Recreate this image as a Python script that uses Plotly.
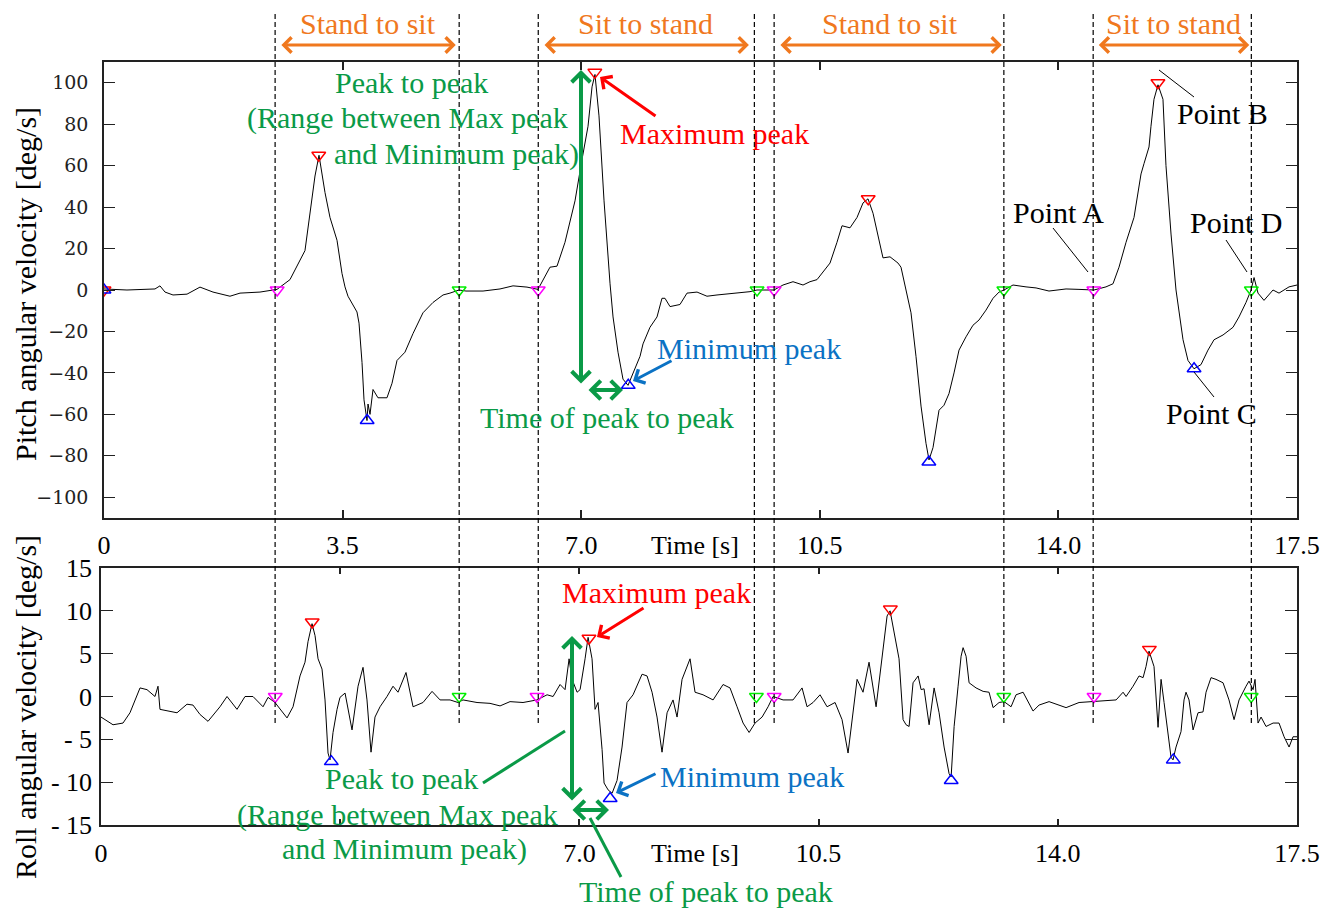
import plotly.graph_objects as go

# ---------------- data ----------------
pitch_t = [0.000, 0.337, 0.748, 0.821, 0.895, 1.012, 1.218, 1.408, 1.599, 1.848, 1.995, 2.288,
           2.538, 2.728, 2.948, 3.022, 3.095, 3.154, 3.242, 3.315, 3.418, 3.491, 3.535, 3.579,
           3.711, 3.741, 3.785, 3.814, 3.843, 3.858, 3.873, 3.902, 3.946, 4.019, 4.151, 4.225,
           4.298, 4.415, 4.533, 4.679, 4.826, 4.973, 5.075, 5.207, 5.310, 5.560, 5.809, 6.000,
           6.205, 6.366, 6.542, 6.645, 6.762, 6.909, 7.012, 7.100, 7.159, 7.202, 7.261, 7.335,
           7.423, 7.467, 7.540, 7.613, 7.687, 7.760, 7.863, 7.907, 8.009, 8.112, 8.185, 8.229,
           8.303, 8.449, 8.552, 8.699, 8.845, 8.992, 9.227, 9.476, 9.579, 9.828, 9.960, 10.107,
           10.254, 10.356, 10.459, 10.606, 10.650, 10.752, 10.826, 10.943, 11.046, 11.134, 11.207,
           11.281, 11.354, 11.427, 11.530, 11.647, 11.691, 11.764, 11.838, 11.911, 11.985, 12.058,
           12.102, 12.161, 12.205, 12.249, 12.322, 12.395, 12.469, 12.542, 12.645, 12.747, 12.835,
           12.938, 13.041, 13.129, 13.202, 13.334, 13.525, 13.672, 13.862, 14.112, 14.302, 14.522,
           14.698, 14.801, 14.889, 14.992, 15.109, 15.212, 15.256, 15.329, 15.358, 15.402, 15.461,
           15.534, 15.578, 15.652, 15.725, 15.769, 15.828, 15.901, 15.989, 16.092, 16.194, 16.283,
           16.415, 16.561, 16.649, 16.752, 16.826, 16.870, 16.928, 17.016, 17.148, 17.236, 17.383,
           17.500]
pitch_v = [0.5, 0.0, 0.5, 2.0, -1.0, -2.4, -2.0, 1.4, -1.0, -3.0, -1.5, -1.0,
           0.3, 5.0, 19.0, 37.0, 55.0, 65.0, 47.0, 35.0, 24.0, 8.0, 1.5, -3.0,
           -10.6, -16.0, -35.0, -53.0, -60.0, -63.0, -55.0, -60.0, -48.0, -52.0, -52.0, -45.0,
           -34.0, -30.0, -21.0, -11.0, -6.0, -2.4, -1.5, 0.0, -0.5, -0.5, 0.5, 2.0,
           1.4, 0.3, 11.0, 11.5, 23.0, 43.0, 63.0, 79.0, 98.0, 104.0, 84.0, 43.0,
           3.0, -13.0, -30.0, -43.0, -46.0, -40.0, -32.0, -26.0, -18.0, -13.0, -4.0, -4.0,
           -8.0, -7.0, -1.5, -1.0, -3.0, -2.4, -1.5, -0.8, 0.0, 0.0, 2.4, 4.0,
           2.4, 4.0, 5.0, 11.0, 13.0, 23.0, 31.0, 30.0, 35.0, 42.0, 44.0,
           37.0, 27.0, 15.5, 16.0, 13.0, 11.0, 0.0, -11.0, -32.0, -56.0, -74.0,
           -82.0, -76.0, -66.0, -58.0, -55.6, -50.0, -40.0, -29.0, -22.6, -17.0, -14.5,
           -9.7, -4.0, -1.0, 0.0, 2.4, 1.5, 1.0, -0.5, 0.5, 0.3, 0.0,
           1.5, 3.0, 11.0, 23.0, 35.0, 56.0, 61.0, 69.0, 79.0, 92.0, 99.0,
           92.0, 60.0, 27.0, 0.0, -11.0, -24.0, -34.0, -38.0, -36.0, -29.0, -24.0,
           -21.7, -18.0, -13.0, -6.0, 0.0, 6.0, -1.5, -5.0, 0.0, -1.5, 1.5,
           2.4]

roll_t = [0.000, 0.176, 0.322, 0.424, 0.571, 0.673, 0.790, 0.834, 0.863, 0.966, 1.112, 1.258,
          1.346, 1.449, 1.566, 1.741, 1.844, 1.990, 2.107, 2.224, 2.371, 2.444, 2.546, 2.722,
          2.810, 2.912, 2.985, 3.029, 3.088, 3.132, 3.176, 3.234, 3.278, 3.322, 3.351, 3.395,
          3.454, 3.497, 3.571, 3.673, 3.761, 3.834, 3.892, 3.951, 4.009, 4.083, 4.185, 4.273,
          4.346, 4.463, 4.566, 4.712, 4.844, 4.961, 5.107, 5.224, 5.297, 5.502, 5.692, 5.839,
          5.985, 6.175, 6.380, 6.527, 6.615, 6.717, 6.790, 6.849, 6.893, 6.966, 7.010, 7.083,
          7.127, 7.185, 7.229, 7.273, 7.332, 7.361, 7.420, 7.478, 7.551, 7.624, 7.697, 7.785,
          7.917, 7.990, 8.063, 8.136, 8.209, 8.283, 8.370, 8.429, 8.502, 8.619, 8.692, 8.809,
          8.956, 9.102, 9.204, 9.307, 9.395, 9.483, 9.570, 9.673, 9.761, 9.834, 9.980, 10.126,
          10.258, 10.331, 10.419, 10.521, 10.624, 10.741, 10.843, 10.931, 11.004, 11.063, 11.150,
          11.238, 11.341, 11.443, 11.502, 11.546, 11.604, 11.677, 11.736, 11.780, 11.824, 11.882,
          11.956, 12.000, 12.043, 12.117, 12.190, 12.263, 12.336, 12.409, 12.439, 12.483, 12.541,
          12.585, 12.614, 12.658, 12.702, 12.804, 12.907, 12.994, 13.053, 13.141, 13.214, 13.316,
          13.389, 13.492, 13.638, 13.726, 13.872, 14.121, 14.311, 14.516, 14.706, 14.853, 14.955,
          14.999, 15.101, 15.189, 15.248, 15.291, 15.335, 15.394, 15.408, 15.467, 15.511, 15.555,
          15.613, 15.657, 15.686, 15.730, 15.803, 15.847, 15.876, 15.920, 15.979, 16.052, 16.125,
          16.169, 16.242, 16.315, 16.418, 16.505, 16.579, 16.652, 16.754, 16.798, 16.857, 16.886,
          16.930, 16.974, 17.047, 17.150, 17.237, 17.311, 17.384, 17.442, 17.500]
roll_v = [-2.4, -3.3, -3.1, -1.9, 1.0, 0.8, 0.0, 1.2, -1.5, -1.7, -1.9, -0.9,
          -1.0, -2.1, -2.9, -1.2, 0.0, -1.5, 0.0, 0.0, -1.2, -0.1, -0.7, -2.5,
          -1.2, 2.4, 4.0, 6.4, 8.5, 7.1, 4.4, 3.2, -0.4, -6.6, -7.4, -4.2,
          -1.5, -0.1, 0.4, -3.9, 1.2, 3.4, -0.4, -6.5, -2.4, -1.2, 0.0, 1.2,
          0.5, 2.8, -1.2, -0.7, 0.6, -0.4, -0.4, -0.7, -0.4, -0.7, -0.8, -1.1,
          -0.6, -0.7, -0.4, 0.2, 0.0, 1.4, 0.8, 4.4, 2.0, 0.5, 0.8, 4.4,
          6.9, 4.4, -1.5, -0.7, -6.2, -10.1, -10.9, -11.3, -9.8, -5.9, -0.7, 0.2,
          2.6, 2.4, 0.5, -2.4, -6.5, -1.9, -0.4, -2.4, 2.0, 4.4, 0.5, 0.2,
          -0.4, 1.4, 1.0, -1.2, -3.1, -4.2, -3.1, -2.4, -1.2, 0.0, -0.4, -0.4,
          1.0, -1.2, -0.7, 0.2, -1.2, -0.7, -2.7, -6.6, -1.9, 2.0, 0.5,
          4.0, -1.2, 5.2, 9.4, 10.0, 7.5, 4.4, -2.7, -3.3, -3.5, 1.6,
          2.4, 0.8, 0.9, -3.3, 1.0, -1.9, -5.9, -9.0, -9.4, -3.5, 1.2,
          4.7, 5.7, 4.7, 1.6, 1.0, 0.6, 0.5, -1.3, -0.7, -0.6, -1.2,
          0.2, 0.5, -1.7, -1.0, -0.6, -1.3, -0.7, -0.6, -0.5, -0.4, 0.5,
          0.0, 1.2, 2.4, 2.2, 3.5, 5.3, 4.0, 3.5, -3.6, 2.0, -0.7,
          -4.2, -7.1, -7.4, -5.9, -4.1, -0.4, 0.5, -0.4, -3.9, -1.9, -1.8,
          0.5, 2.2, 2.0, 1.6, -0.4, -2.7, -0.4, 1.2, 1.8, 0.8, 2.0,
          -3.1, -2.4, -3.5, -3.1, -3.1, -4.7, -5.9, -4.7, -4.7]

# detected events (pitch)
p_max_t = [0.0, 3.15, 7.20, 11.21, 15.46]
p_max_v = [0.0, 65, 105, 44, 100]
p_min_t = [0.0, 3.86, 7.69, 12.10, 15.99]
p_min_v = [0.0, -63, -46, -83, -38]
p_start_t = [2.54, 6.37, 9.83, 14.52]
p_start_v = [0, 0, 0, 0]
p_end_t = [5.21, 9.58, 13.20, 16.83]
p_end_v = [0, 0, 0, 0]

# detected events (roll)
r_max_t = [3.09, 7.14, 11.55, 15.34]
r_max_v = [8.7, 6.8, 10.2, 5.5]
r_min_t = [3.37, 7.45, 12.44, 15.69]
r_min_v = [-7.6, -11.9, -9.8, -7.4]
r_start_t = [2.55, 6.38, 9.85, 14.53]
r_start_v = [0, 0, 0, 0]
r_end_t = [5.24, 9.59, 13.21, 16.83]
r_end_v = [0, 0, 0, 0]

# phase boundaries and phase labels
boundaries = [2.51, 5.21, 6.37, 9.54, 9.83, 13.20, 14.51, 16.83]
phase_from = [2.58, 6.44, 9.90, 14.57]
phase_to = [5.16, 9.46, 13.17, 16.80]
phase_names = ["Stand to sit", "Sit to stand", "Stand to sit", "Sit to stand"]

x_ticks = [0, 3.5, 7.0, 10.5, 14.0, 17.5]
x_ticktext = ["0", "3.5", "7.0", "10.5", "14.0", "17.5"]
x2_ticktext = ["0", "", "7.0", "10.5", "14.0", "17.5"]   # 3.5 hidden under annotation text
pitch_ticks = [-100, -80, -60, -40, -20, 0, 20, 40, 60, 80, 100]
roll_ticks = [-15, -10, -5, 0, 5, 10, 15]
roll_ticktext = ["- 15", "- 10", "- 5", "0", "5", "10", "15"]

# ---------------- layout helpers ----------------
W, H = 1336, 909
ML, MR, MT, MB = 101, 39, 62, 84
PW, PH = W - ML - MR, H - MT - MB


def fx(px):
    return (px - ML) / PW


def fy(py):
    return (H - MB - py) / PH


SERIF = "Liberation Serif"
GREEN = "#0A9A47"
RED = "#FF0000"
BLUE = "#0B72C4"
ORANGE = "#F0781E"
BLACK = "#000000"


def label(px, py, s, color, size=30, anchor="left"):
    return dict(x=fx(px), y=fy(py), xref="paper", yref="paper", text=s, showarrow=False,
                xanchor=anchor, yanchor="middle",
                font=dict(family=SERIF, size=size, color=color))


def arrow(hx, hy, tx, ty, color, width=3, double=False, size=1.0):
    return dict(x=fx(hx), y=fy(hy), xref="paper", yref="paper",
                ax=tx - hx, ay=ty - hy, axref="pixel", ayref="pixel",
                text="", showarrow=True, arrowhead=4, arrowsize=size, arrowwidth=width,
                arrowcolor=color, arrowside="end+start" if double else "end",
                startarrowhead=4, startarrowsize=size, standoff=0, startstandoff=0)


def seg(x0, y0, x1, y1, color, width=1):
    return dict(type="line", xref="paper", yref="paper", x0=fx(x0), y0=fy(y0),
                x1=fx(x1), y1=fy(y1), line=dict(color=color, width=width))


fig = go.Figure()

# curves
fig.add_trace(go.Scatter(x=pitch_t, y=pitch_v, mode="lines", line=dict(color="black", width=1),
                         xaxis="x", yaxis="y"))
fig.add_trace(go.Scatter(x=roll_t, y=roll_v, mode="lines", line=dict(color="black", width=1),
                         xaxis="x2", yaxis="y2"))


def markers(t, v, sym, color, xa, ya):
    fig.add_trace(go.Scatter(x=t, y=v, mode="markers", xaxis=xa, yaxis=ya,
                             marker=dict(symbol=sym, size=12, color=color,
                                         line=dict(color=color, width=1.5))))


markers(p_start_t, p_start_v, "triangle-down-open", "#FF00FF", "x", "y")
markers(p_end_t, p_end_v, "triangle-down-open", "#00EE00", "x", "y")
markers(p_max_t, p_max_v, "triangle-down-open", RED, "x", "y")
markers(p_min_t, p_min_v, "triangle-up-open", "#0000FF", "x", "y")
markers(r_start_t, r_start_v, "triangle-down-open", "#FF00FF", "x2", "y2")
markers(r_end_t, r_end_v, "triangle-down-open", "#00EE00", "x2", "y2")
markers(r_max_t, r_max_v, "triangle-down-open", RED, "x2", "y2")
markers(r_min_t, r_min_v, "triangle-up-open", "#0000FF", "x2", "y2")

shapes = []
for b in boundaries:
    shapes.append(dict(type="line", xref="x", yref="paper", x0=b, x1=b,
                       y0=fy(723), y1=fy(12),
                       line=dict(color="black", width=1.2, dash="5px,3px")))

# annotation leader lines
shapes += [
    seg(1053, 228, 1088, 272, BLACK), seg(1159, 70, 1194, 97, BLACK),
    seg(1226, 240, 1247, 272, BLACK), seg(1194, 372, 1214, 397, BLACK),
    seg(565, 731, 483, 783, GREEN, 3), seg(590, 818, 621, 877, GREEN, 3),
]

ann = []
# phase arrows and labels (paper y above plot)
for f, t_, name in zip(phase_from, phase_to, phase_names):
    ann.append(dict(x=t_, y=fy(45), xref="x", yref="paper", ax=(f - t_) * PW / 17.5 * (1193 / 1196),
                    ay=0, axref="pixel", ayref="pixel", text="", showarrow=True,
                    arrowhead=4, startarrowhead=4, arrowside="end+start", arrowsize=1,
                    startarrowsize=1, arrowwidth=3, arrowcolor=ORANGE, standoff=0,
                    startstandoff=0))
    ann.append(dict(x=(f + t_) / 2, y=fy(24), xref="x", yref="paper", text=name,
                    showarrow=False, xanchor="center", yanchor="middle",
                    font=dict(family=SERIF, size=30, color=ORANGE)))

# top panel annotations
ann += [
    label(333, 82, "Peak to peak", GREEN),
    label(245, 118, "(Range between Max peak", GREEN),
    label(332, 154, "and Minimum peak)", GREEN),
    arrow(581, 70, 581, 385, GREEN, width=4, double=True, size=0.9),
    arrow(623, 390, 587, 390, GREEN, width=4, double=True, size=0.9),
    label(478, 417, "Time of peak to peak", GREEN),
    label(618, 133, "Maximum peak", RED),
    arrow(600, 77, 657, 117, RED, width=3),
    label(655, 348, "Minimum peak", BLUE),
    arrow(633, 381, 673, 360, BLUE, width=3),
    label(1011, 212, "Point A", BLACK),
    label(1175, 113, "Point B", BLACK),
    label(1188, 223, "Point D", BLACK),
    label(1164, 413, "Point C", BLACK),
    label(695, 545, "Time [s]", BLACK, size=26, anchor="center"),
]
# bottom panel annotations
ann += [
    label(560, 592, "Maximum peak", RED),
    arrow(597, 637, 645, 607, RED, width=3),
    arrow(572, 636, 572, 802, GREEN, width=4, double=True, size=0.9),
    arrow(609, 810, 571, 810, GREEN, width=4, double=True, size=0.9),
    label(323, 778, "Peak to peak", GREEN),
    label(235, 815, "(Range between Max peak", GREEN),
    label(280, 849, "and Minimum peak)", GREEN),
    label(577, 891, "Time of peak to peak", GREEN),
    label(658, 776, "Minimum peak", BLUE),
    arrow(616, 793, 657, 773, BLUE, width=3),
    label(695, 853, "Time [s]", BLACK, size=26, anchor="center"),
]
# axis titles
ann += [
    dict(x=fx(25), y=fy(284), xref="paper", yref="paper", text="Pitch angular velocity [deg/s]",
         textangle=-90, showarrow=False, xanchor="center", yanchor="middle",
         font=dict(family=SERIF, size=30, color=BLACK)),
    dict(x=fx(25), y=fy(707), xref="paper", yref="paper", text="Roll angular velocity [deg/s]",
         textangle=-90, showarrow=False, xanchor="center", yanchor="middle",
         font=dict(family=SERIF, size=30, color=BLACK)),
]

axis_common = dict(showline=True, linecolor="#222", linewidth=1.5, mirror="ticks",
                   ticks="inside", showgrid=False, zeroline=False, tickcolor="#222")

fig.update_layout(
    width=W, height=H, margin=dict(l=ML, r=MR, t=MT, b=MB),
    paper_bgcolor="white", plot_bgcolor="white", showlegend=False, hovermode=False,
    xaxis=dict(domain=[3 / PW, 1], range=[0, 17.5], tickvals=x_ticks, ticktext=x_ticktext,
               ticklen=8, tickwidth=1.5, anchor="y", ticklabelstandoff=3,
               tickfont=dict(family=SERIF, size=26, color=BLACK), **axis_common),
    yaxis=dict(domain=[fy(518), 1], range=[-110, 110], tickvals=pitch_ticks, ticklen=11,
               tickwidth=1.2, anchor="x", ticklabelstandoff=10,
               tickfont=dict(family="DejaVu Serif", size=19, color="#222"), **axis_common),
    xaxis2=dict(domain=[0, 1], range=[0, 17.5], tickvals=x_ticks, ticktext=x2_ticktext,
                ticklen=6, tickwidth=1.5, anchor="y2", ticklabelstandoff=4,
                tickfont=dict(family=SERIF, size=26, color=BLACK), **axis_common),
    yaxis2=dict(domain=[0, fy(568)], range=[-15, 15], tickvals=roll_ticks,
                ticktext=roll_ticktext, ticklen=12, tickwidth=1.2, anchor="x2",
                ticklabelstandoff=2,
                tickfont=dict(family=SERIF, size=26, color=BLACK), **axis_common),
    shapes=shapes, annotations=ann,
)

fig.write_html("out.html")
